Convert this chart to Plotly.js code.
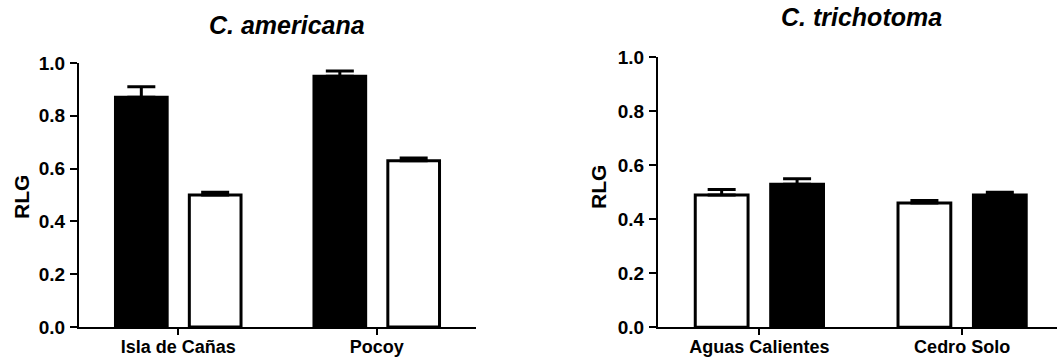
<!DOCTYPE html>
<html>
<head>
<meta charset="utf-8">
<script src="https://cdn.plot.ly/plotly-3.0.1.min.js"></script>
<style>html,body{margin:0;padding:0;background:#fff;}#chart{width:1057px;height:360px;}</style>
</head>
<body>
<div id="chart"></div>
<script>
// Left panel: C. americana
const amCategories = ["Isla de Cañas", "Pocoy"];
const amBlack = [0.87, 0.95];
const amBlackErr = [0.04, 0.02];
const amWhite = [0.50, 0.63];
const amWhiteErr = [0.01, 0.01];

// Right panel: C. trichotoma
const trCategories = ["Aguas Calientes", "Cedro Solo"];
const trWhite = [0.49, 0.46];
const trWhiteErr = [0.02, 0.01];
const trBlack = [0.53, 0.49];
const trBlackErr = [0.02, 0.01];

const yTickVals = [0, 0.2, 0.4, 0.6, 0.8, 1.0];

const FONT = "Arial, 'Liberation Sans', Helvetica, sans-serif";

function barTrace(x, y, err, fill, xa, ya) {
  return {
    type: "bar", x: x, y: y, xaxis: xa, yaxis: ya,
    marker: {color: fill, line: {color: "#000", width: 3}},
    error_y: {type: "data", symmetric: false, array: err, arrayminus: err.map(() => 0),
              color: "#000", thickness: 3, width: 14},
    showlegend: false, hoverinfo: "x+y"
  };
}

const data = [
  barTrace(amCategories, amBlack, amBlackErr, "#000", "x", "y"),
  barTrace(amCategories, amWhite, amWhiteErr, "#fff", "x", "y"),
  barTrace(trCategories, trWhite, trWhiteErr, "#fff", "x2", "y2"),
  barTrace(trCategories, trBlack, trBlackErr, "#000", "x2", "y2")
];

const W = 1057, H = 360;
const yTickFont = {family: FONT, size: 19, color: "#000", weight: "bold"};
const xTickFont = {family: FONT, size: 18, color: "#000", weight: "bold"};

function xAxis(domain, range, anchor) {
  return {domain: domain, range: range, anchor: anchor, type: "category",
    showline: true, linecolor: "#000", linewidth: 2,
    ticks: "outside", ticklen: 6, tickwidth: 2, tickcolor: "#000",
    tickfont: xTickFont, ticklabelstandoff: -4, showgrid: false, zeroline: false, fixedrange: true};
}
function yAxis(domain, anchor) {
  return {domain: domain, range: [0, 1], anchor: anchor,
    showline: true, linecolor: "#000", linewidth: 2,
    ticks: "outside", ticklen: 7, tickwidth: 2, tickcolor: "#000",
    tickvals: yTickVals, tickformat: ".1f", ticklabelstandoff: 1,
    tickfont: yTickFont, showgrid: false, zeroline: false, fixedrange: true};
}

const layout = {
  width: W, height: H,
  margin: {l: 0, r: 0, t: 0, b: 0},
  paper_bgcolor: "#fff", plot_bgcolor: "#fff",
  barmode: "group", bargap: 0.256, bargroupgap: 0.3,
  font: {family: FONT, color: "#000"},
  xaxis: xAxis([79 / W, 476 / W], [-0.5, 1.5], "y"),
  yaxis: yAxis([33 / H, 297 / H], "x"),
  xaxis2: xAxis([658 / W, 1], [-0.5, 1.468], "y2"),
  yaxis2: yAxis([32.7 / H, 302.7 / H], "x2"),
  annotations: [
    {text: "C. americana", xref: "paper", yref: "paper", x: 287 / W, y: 1 - 25 / H,
     showarrow: false, xanchor: "center", yanchor: "middle",
     font: {family: FONT, size: 25, weight: "bold", style: "italic", color: "#000"}},
    {text: "C. trichotoma", xref: "paper", yref: "paper", x: 861 / W, y: 1 - 17 / H,
     showarrow: false, xanchor: "center", yanchor: "middle",
     font: {family: FONT, size: 25, weight: "bold", style: "italic", color: "#000"}},
    {text: "RLG", xref: "paper", yref: "paper", x: 21 / W, y: 1 - 197 / H, textangle: -90,
     showarrow: false, xanchor: "center", yanchor: "middle",
     font: {family: FONT, size: 21, weight: "bold", color: "#000"}},
    {text: "RLG", xref: "paper", yref: "paper", x: 598 / W, y: 1 - 187 / H, textangle: -90,
     showarrow: false, xanchor: "center", yanchor: "middle",
     font: {family: FONT, size: 21, weight: "bold", color: "#000"}}
  ]
};

Plotly.newPlot("chart", data, layout, {displayModeBar: false, staticPlot: true});
</script>
</body>
</html>
